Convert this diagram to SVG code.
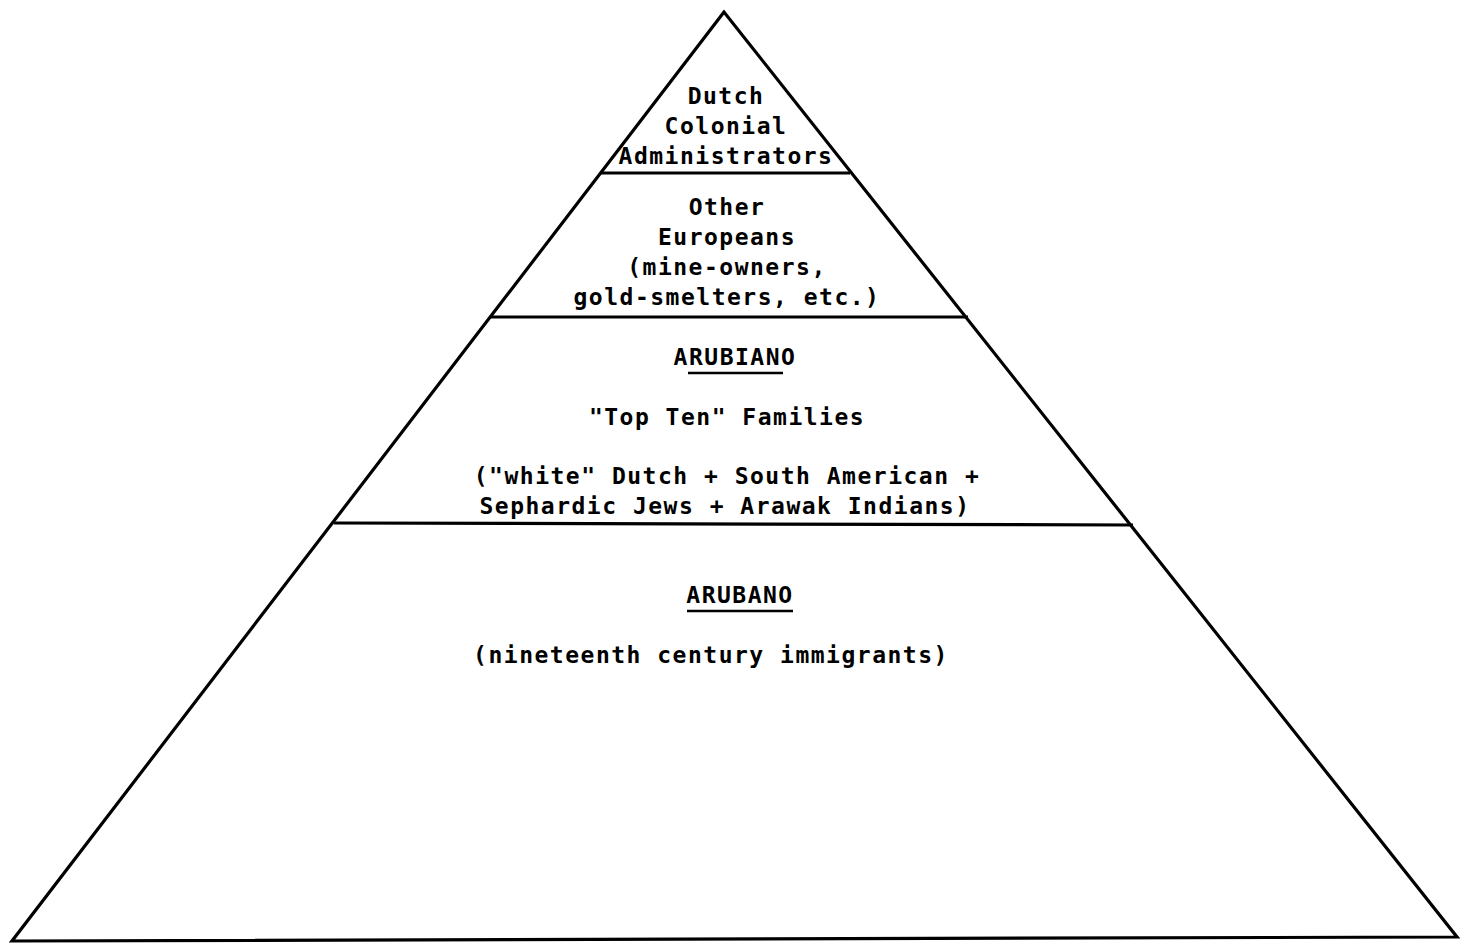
<svg xmlns="http://www.w3.org/2000/svg" width="1462" height="944" viewBox="0 0 1462 944">
<style>
.ln{stroke:#000;stroke-width:3.2;fill:none;stroke-linejoin:miter}
.t{font-family:"DejaVu Sans Mono","Liberation Mono",monospace;font-weight:bold;font-size:23px;letter-spacing:1.5px;fill:#000;text-anchor:middle}
.u{stroke:#000;stroke-width:2.5}
</style>
<rect width="1462" height="944" fill="#fff"/>
<g id="connectors">
<polygon class="ln" points="724,12 12,941 1457,937"/>
<line class="ln" x1="600" y1="173" x2="850" y2="173"/>
<line class="ln" x1="490" y1="317" x2="968" y2="317"/>
<line class="ln" x1="334" y1="523" x2="1133" y2="525"/>
</g>
<g id="tier1">
<text class="t" x="726" y="104">Dutch</text>
<text class="t" x="726" y="134">Colonial</text>
<text class="t" x="726" y="164">Administrators</text>
</g>
<g id="tier2">
<text class="t" x="727" y="215">Other</text>
<text class="t" x="727" y="245">Europeans</text>
<text class="t" x="727" y="275">(mine-owners,</text>
<text class="t" x="727" y="305">gold-smelters, etc.)</text>
</g>
<g id="tier3">
<text class="t" x="735" y="365">ARUBIANO</text>
<line class="u" x1="688" y1="373" x2="783" y2="373"/>
<text class="t" x="727" y="425">"Top Ten" Families</text>
<text class="t" x="727" y="484">("white" Dutch + South American +</text>
<text class="t" x="725" y="514">Sephardic Jews + Arawak Indians)</text>
</g>
<g id="tier4">
<text class="t" x="740" y="603">ARUBANO</text>
<line class="u" x1="687" y1="611" x2="793" y2="611"/>
<text class="t" x="711" y="663">(nineteenth century immigrants)</text>
</g>
</svg>
